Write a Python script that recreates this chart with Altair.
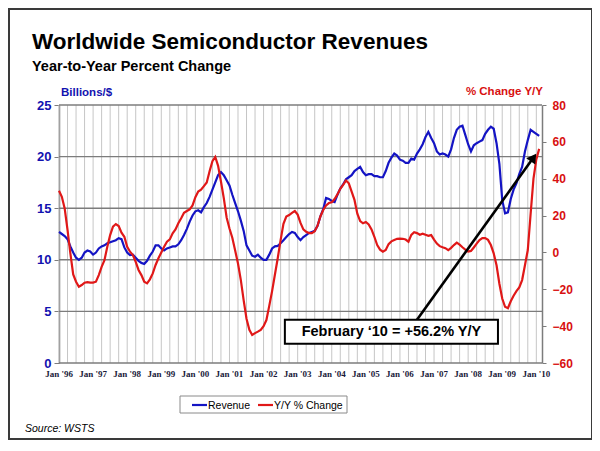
import altair as alt
import pandas as pd

# ---------------- data (monthly, Jan 1996 .. Feb 2010) ----------------
REVENUE = [
    12.7, 12.5, 12.3, 12.0, 11.3, 10.7, 10.2, 10.0, 10.2, 10.7, 10.9, 10.8,   # 1996
    10.5, 10.7, 11.1, 11.3, 11.4, 11.6, 11.7, 11.8, 11.9, 12.1, 12.0, 11.2,   # 1997
    10.7, 10.45, 10.5, 10.2, 9.9, 9.7, 9.6, 9.9, 10.4, 10.8, 11.4, 11.4,      # 1998
    11.1, 10.9, 11.1, 11.2, 11.3, 11.3, 11.5, 11.9, 12.4, 13.0, 13.7, 14.3,   # 1999
    14.7, 14.8, 14.6, 15.1, 15.5, 16.1, 16.8, 17.5, 18.2, 18.5, 18.2, 17.7,   # 2000
    17.2, 16.3, 15.5, 14.7, 13.8, 12.8, 11.4, 10.9, 10.4, 10.3, 10.5, 10.2,   # 2001
    10.0, 10.0, 10.5, 11.1, 11.3, 11.35, 11.6, 11.9, 12.2, 12.5, 12.7, 12.6,  # 2002
    12.2, 11.9, 12.2, 12.4, 12.6, 12.7, 12.8, 13.3, 14.2, 14.9, 16.0, 15.9,   # 2003
    15.7, 15.6, 16.3, 16.9, 17.3, 17.8, 18.0, 18.2, 18.6, 18.8, 19.0, 18.5,   # 2004
    18.2, 18.3, 18.3, 18.1, 18.1, 18.0, 18.0, 18.6, 19.4, 19.9, 20.3, 20.1,   # 2005
    19.7, 19.6, 19.4, 19.4, 19.8, 19.7, 20.3, 20.7, 21.2, 21.9, 22.4, 21.8,   # 2006
    21.3, 20.5, 20.2, 20.3, 20.2, 20.0, 20.7, 21.8, 22.6, 22.9, 23.0, 22.1,   # 2007
    21.2, 20.5, 21.1, 21.3, 21.45, 21.6, 22.2, 22.6, 22.9, 22.7, 21.3, 19.3,  # 2008
    15.8, 14.5, 14.6, 15.9, 16.8, 17.4, 18.3, 19.0, 20.5, 21.6, 22.6, 22.4,   # 2009
    22.2, 22.0,                                                               # 2010
]
YOY_PCT = [
    33.5, 30.2, 23.9, 12.2, -0.5, -11.9, -15.9, -18.6, -17.7, -16.4, -16.1, -16.4,
    -16.4, -15.9, -12.3, -7.8, -4.2, 3.1, 9.4, 14.0, 15.4, 14.3, 10.7, 8.5,
    3.1, 0.4, -1.4, -5.1, -9.5, -12.3, -15.9, -16.8, -14.6, -11.4, -6.8, -3.2,
    0.0, 3.1, 5.8, 7.1, 10.4, 12.5, 15.8, 18.5, 21.5, 22.5, 23.4, 25.5,
    30.0, 33.0, 34.0, 36.0, 38.0, 44.0, 49.5, 51.8, 47.0, 38.5, 29.5, 19.0,
    13.0, 8.0, 1.0, -6.0, -15.0, -26.0, -36.0, -42.0, -44.8, -43.8, -43.0, -42.0,
    -40.0, -36.7, -29.0, -21.0, -12.0, -3.0, 6.7, 15.5, 19.5, 20.3, 21.5, 22.5,
    20.5, 16.0, 12.5, 11.2, 10.5, 10.5, 11.5, 14.5, 19.5, 23.0, 25.5, 26.8,
    27.2, 29.0, 31.5, 34.5, 36.6, 39.0, 37.5, 33.0, 28.5, 21.0, 17.0, 15.8,
    16.5, 15.2, 12.5, 8.5, 4.0, 1.5, 0.4, 1.3, 4.5, 6.0, 6.7, 7.4,
    7.5, 7.4, 7.0, 5.8, 9.5, 11.0, 10.5, 9.6, 10.2, 9.6, 9.0, 9.4,
    7.0, 4.8, 3.4, 2.8, 2.3, 1.2, 2.5, 4.0, 5.3, 4.2, 2.8, 1.5,
    0.5, 0.8, 2.7, 4.8, 6.7, 7.8, 7.8, 6.8, 4.0, -0.5, -7.0, -17.0,
    -25.0, -29.5, -30.3, -26.5, -23.5, -21.0, -19.0, -15.0, -7.0, 1.3, 21.0, 40.0,
    50.5, 56.2,
]
TICK_LABELS = ["Jan '96", "Jan '97", "Jan '98", "Jan '99", "Jan '00", "Jan '01",
               "Jan '02", "Jan '03", "Jan '04", "Jan '05", "Jan '06", "Jan '07",
               "Jan '08", "Jan '09", "Jan '10"]
QUARTER_MONTHS = list(range(0, 169, 3))        # vertical grid every quarter
LEFT_TICKS = [0, 5, 10, 15, 20, 25]
RIGHT_TICKS = [-60, -40, -20, 0, 20, 40, 60, 80]
SERIES_NAMES = ["Revenue", "Y/Y % Change"]

# annotation (in month / percent units)
ANNOT_TEXT = "February \u201810 = +56.2% Y/Y"
ANNOT_BOX = {"x1": 79.5, "x2": 154.5, "y1": -36.5, "y2": -49.5}
ANNOT_CENTER = {"x": 117.0, "y": -43.3}
ARROW = {"x1": 126.0, "y1": -36.5, "x2": 167.0, "y2": 51.5}

# ---------------- styling ----------------
BLUE = "#1414c4"
RED = "#e01818"
AXIS_GRAY = "#7c7c7c"
FONT = "Liberation Sans"
W, H = 483, 258

df = pd.DataFrame({"month": list(range(len(REVENUE))), "revenue": REVENUE, "pct": YOY_PCT})
tick_df = pd.DataFrame({"month": [12 * i for i in range(len(TICK_LABELS))],
                        "label": TICK_LABELS})
quarter_df = pd.DataFrame({"month": QUARTER_MONTHS})
hgrid_df = pd.DataFrame({"v": LEFT_TICKS})
one = pd.DataFrame({"k": [0]})

x_scale = alt.Scale(domain=[0, 170], nice=False, zero=False)
rev_scale = alt.Scale(domain=[0, 25], nice=False, zero=False)
pct_scale = alt.Scale(domain=[-60, 80], nice=False, zero=False)

left_axis = alt.Axis(orient="left", values=LEFT_TICKS, grid=False, tickSize=5,
                     tickColor=AXIS_GRAY, domainColor=AXIS_GRAY, domainWidth=1.5,
                     labelColor="#1212b0", labelFont=FONT, labelFontSize=13,
                     labelFontWeight="bold", labelPadding=3, title=None)
right_axis = alt.Axis(orient="right", values=RIGHT_TICKS, grid=False, tickSize=4,
                      tickColor=AXIS_GRAY, domainColor=AXIS_GRAY, domainWidth=1.5,
                      labelColor="#d81010", labelFont=FONT, labelFontSize=12,
                      labelFontWeight="bold", labelPadding=6, title=None)

# grid
vgrid = alt.Chart(quarter_df).mark_rule(color="#c6c6c6", strokeWidth=1).encode(
    x=alt.X("month:Q", scale=x_scale, axis=None),
    y=alt.value(0), y2=alt.value(H),
)
hgrid = alt.Chart(hgrid_df).mark_rule(color=AXIS_GRAY, strokeWidth=1.4).encode(
    y=alt.Y("v:Q", scale=rev_scale, axis=None),
    x=alt.value(0), x2=alt.value(W),
)
xlabels = alt.Chart(tick_df).mark_text(
    font="Liberation Sans Narrow", fontSize=9, fontWeight="bold", color="#1a1a3a",
    align="center", baseline="middle").encode(
    x=alt.X("month:Q", scale=x_scale, axis=None),
    y=alt.value(H + 11),
    text="label:N",
)

rev_line = alt.Chart(df).mark_line(color=BLUE, strokeWidth=2.2).encode(
    x=alt.X("month:Q", scale=x_scale, axis=None),
    y=alt.Y("revenue:Q", scale=rev_scale, axis=left_axis),
)
pct_line = alt.Chart(df).mark_line(color=RED, strokeWidth=2.2).encode(
    x=alt.X("month:Q", scale=x_scale, axis=None),
    y=alt.Y("pct:Q", scale=pct_scale, axis=right_axis),
)

arrow_df = pd.DataFrame([ARROW])
arrow_line = alt.Chart(arrow_df).mark_rule(color="black", strokeWidth=2.6).encode(
    x=alt.X("x1:Q", scale=x_scale, axis=None),
    y=alt.Y("y1:Q", scale=pct_scale, axis=None),
    x2="x2:Q", y2="y2:Q",
)
arrow_head = alt.Chart(arrow_df).mark_point(shape="triangle-up", filled=True, color="black",
                                            size=120, angle=35, opacity=1).encode(
    x=alt.X("x2:Q", scale=x_scale, axis=None),
    y=alt.Y("y2:Q", scale=pct_scale, axis=None),
)
box = alt.Chart(pd.DataFrame([ANNOT_BOX])).mark_rect(fill="white", stroke="black",
                                                    strokeWidth=2).encode(
    x=alt.X("x1:Q", scale=x_scale, axis=None), x2="x2:Q",
    y=alt.Y("y1:Q", scale=pct_scale, axis=None), y2="y2:Q",
)
box_text = alt.Chart(pd.DataFrame([ANNOT_CENTER])).mark_text(
    text=ANNOT_TEXT, font=FONT, fontSize=14.5, fontWeight="bold", color="black",
    align="center", baseline="middle").encode(
    x=alt.X("x:Q", scale=x_scale, axis=None),
    y=alt.Y("y:Q", scale=pct_scale, axis=None),
)


def label(text, x, y, size, color="black", weight="bold", align="left",
          style="normal", baseline="alphabetic", font=FONT):
    return alt.Chart(one).mark_text(text=text, align=align, baseline=baseline,
                                    fontSize=size, fontWeight=weight, fontStyle=style,
                                    font=font, color=color).encode(
        x=alt.value(x), y=alt.value(y))


def hline(x1, x2, y, color, width):
    return alt.Chart(one).mark_rule(color=color, strokeWidth=width).encode(
        x=alt.value(x1), x2=alt.value(x2), y=alt.value(y))


title = label("Worldwide Semiconductor Revenues", -27, -56, 22.5)
subtitle = label("Year-to-Year Percent Change", -27, -34, 14.5)
left_title = label("Billions/$", 2, -9, 11.5, color="#1212b0")
right_title = label("% Change  Y/Y", 484, -10, 11.5, color="#d81010", align="right")

legend_box = alt.Chart(one).mark_rect(fill="white", stroke="#8a8a8a", strokeWidth=1).encode(
    x=alt.value(121), x2=alt.value(288), y=alt.value(291), y2=alt.value(308))
leg_blue = hline(133, 148, 300, BLUE, 2.2)
leg_red = hline(199, 214, 300, RED, 2.2)
leg_t1 = label(SERIES_NAMES[0], 149, 300.5, 10.5, weight="normal", baseline="middle")
leg_t2 = label(SERIES_NAMES[1], 215, 300.5, 10.5, weight="normal", baseline="middle")
source = label("Source: WSTS", -34, 327, 10.5, weight="normal", style="italic")

frame = alt.Chart(one).mark_rect(fillOpacity=0, stroke="#3a3a3a", strokeWidth=2).encode(
    x=alt.value(-50), x2=alt.value(533), y=alt.value(-96), y2=alt.value(334))

chart = alt.layer(
    vgrid, hgrid, xlabels, rev_line, pct_line, arrow_line, arrow_head, box, box_text,
    title, subtitle, left_title, right_title,
    legend_box, leg_blue, leg_red, leg_t1, leg_t2, source, frame,
).resolve_scale(y="independent").properties(
    width=W, height=H,
    autosize=alt.AutoSizeParams(type="none"),
    padding={"left": 51, "top": 97, "right": 50, "bottom": 77},
    background="white",
).configure_view(stroke=None)

chart.save("out.html", embed_options={"renderer": "svg", "actions": False})
